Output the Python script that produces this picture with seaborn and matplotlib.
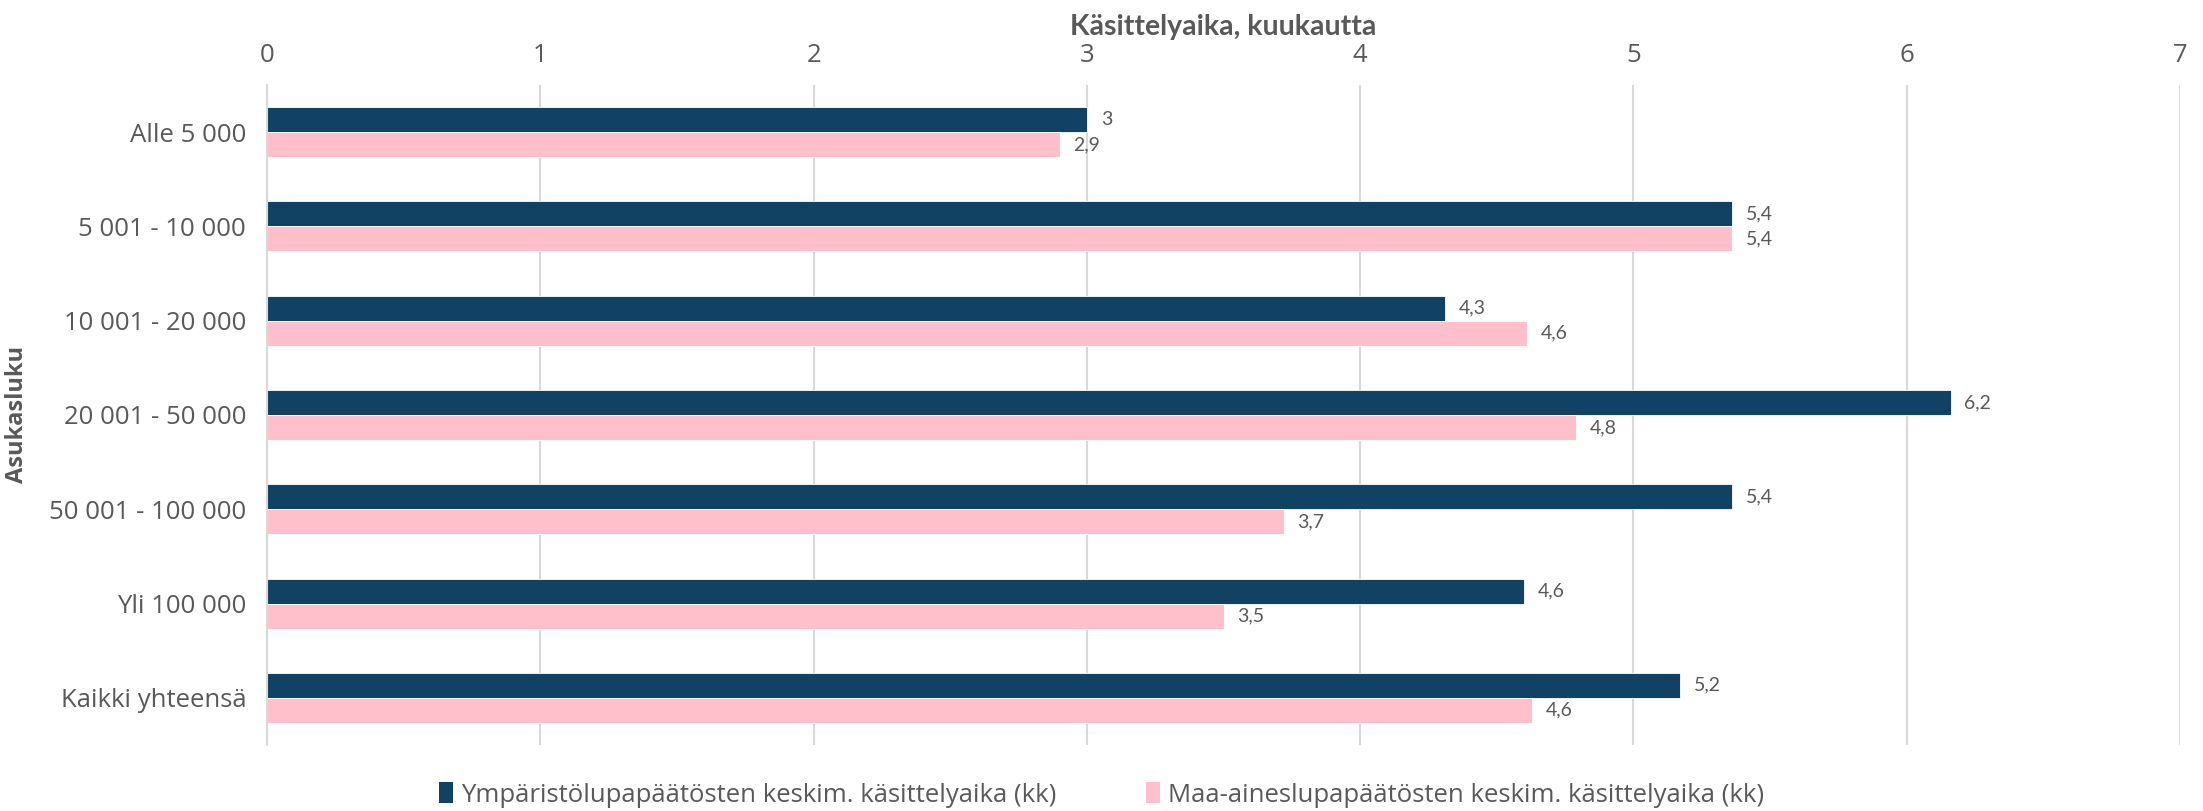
import matplotlib
matplotlib.use("Agg")
import matplotlib.pyplot as plt
import seaborn as sns
import pandas as pd
from matplotlib.patches import Patch

categories = ["Alle 5 000", "5 001 - 10 000", "10 001 - 20 000", "20 001 - 50 000",
              "50 001 - 100 000", "Yli 100 000", "Kaikki yhteensä"]
series_names = ["Ympäristölupapäätösten keskim. käsittelyaika (kk)",
                "Maa-aineslupapäätösten keskim. käsittelyaika (kk)"]
ymparisto = [3.00, 5.36, 4.31, 6.16, 5.36, 4.60, 5.17]
maa_aines = [2.90, 5.36, 4.61, 4.79, 3.72, 3.50, 4.63]
x_ticks = [0, 1, 2, 3, 4, 5, 6, 7]
colors = ["#124263", "#FFC0CB"]
text_color = "#595959"

sns.set_theme(style="white")
plt.rcParams['font.family'] = ['Open Sans', 'DejaVu Sans']
narrow = ['Lato', 'DejaVu Sans']

df = pd.DataFrame({
    "Asukasluku": categories * 2,
    "value": ymparisto + maa_aines,
    "series": [series_names[0]] * len(categories) + [series_names[1]] * len(categories),
})

fig = plt.figure(figsize=(22.03, 8.11), dpi=100)
ax = fig.add_axes([0.1212, 0.0814, 0.8684, 0.8138])

sns.barplot(data=df, y="Asukasluku", x="value", hue="series", orient="h",
            order=categories, hue_order=series_names, palette=colors,
            width=0.53, ax=ax, legend=False, saturation=1, linewidth=0.6,
            edgecolor="white")

def fmt(v):
    s = f"{v:.1f}".replace(".", ",")
    return s[:-2] if s.endswith(",0") else s

for cont, vals in zip(ax.containers, [ymparisto, maa_aines]):
    ax.bar_label(cont, labels=[fmt(v) for v in vals], padding=10,
                 fontsize=14, color=text_color, family=narrow)

ax.set_xlim(0, 7)
ax.set_xticks(x_ticks)
ax.set_xticklabels([str(t) for t in x_ticks])
ax.xaxis.tick_top()
ax.xaxis.set_label_position("top")
ax.tick_params(axis="x", length=0, pad=12, labelsize=18.5, labelcolor=text_color)
ax.tick_params(axis="y", length=0, pad=15, labelsize=18.5, labelcolor=text_color)
ax.grid(axis="x", color="#d9d9d9", linewidth=1.5)
ax.set_axisbelow(True)
for s in ["top", "right", "bottom"]:
    ax.spines[s].set_visible(False)
ax.spines["left"].set_color("#d9d9d9")
ax.spines["left"].set_linewidth(1.5)

ax.set_xlabel("Käsittelyaika, kuukautta", fontsize=20.5, fontweight="bold",
              color=text_color, labelpad=6, family=narrow)
ax.set_ylabel("Asukasluku", fontsize=17, fontweight="bold", color=text_color,
              labelpad=14)

handles = [Patch(facecolor=c, edgecolor="none") for c in colors]
fig.legend(handles, series_names, loc="center", bbox_to_anchor=(0.5, 0.02),
           ncol=2, frameon=False, handlelength=0.55, handleheight=0.9,
           handletextpad=0.3, columnspacing=3.5,
           prop={"size": 18.5}, labelcolor=text_color)

fig.savefig("out.png", dpi=100)
